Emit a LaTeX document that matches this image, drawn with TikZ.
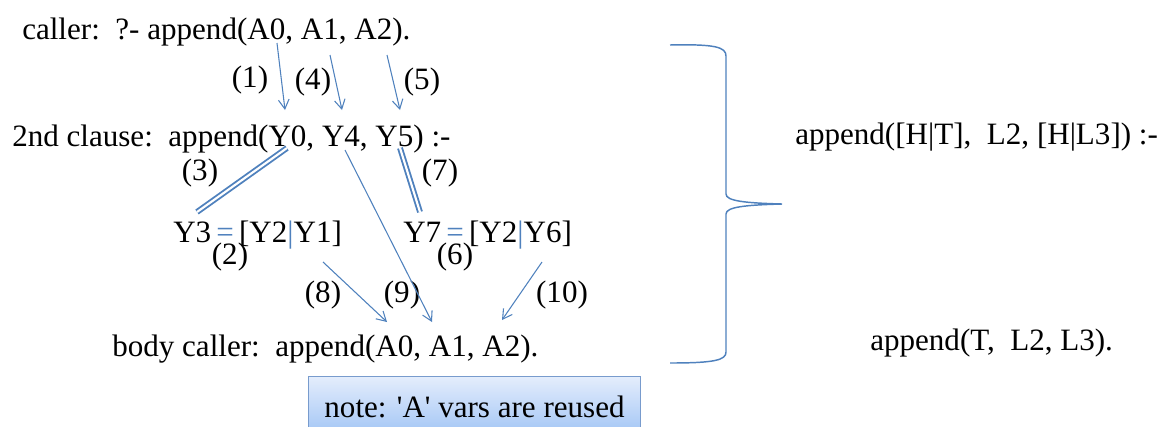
\documentclass[tikz,border=0pt]{standalone}
\usepackage{fontspec}
\setmainfont{Liberation Serif}
\usetikzlibrary{arrows.meta}
\definecolor{linkblue}{RGB}{79,129,189}
\definecolor{noteedge}{RGB}{120,155,205}
\definecolor{notetop}{RGB}{228,237,252}
\definecolor{notebot}{RGB}{160,196,245}

\begin{document}
\begin{tikzpicture}[x=0.75pt,y=-0.75pt,
  txt/.style={anchor=base west,inner sep=0pt,font=\fontsize{23.3}{27}\selectfont},
  num/.style={inner sep=0pt,font=\fontsize{23.3}{27}\selectfont},
  flow/.style={linkblue,line width=0.8pt,-{Straight Barb[length=7pt,width=8pt]}},
  bind/.style={linkblue,line width=1.4pt,double=white,double distance=1.6pt}]
 \useasboundingbox (0,0) rectangle (1163,426);

 \node[txt] (caller) at (22,39) {caller:\ \ ?- append(A0, A1, A2).};
 \node[txt] (clause) at (12,146) {2nd clause:\ \ append(Y0, Y4, Y5) :-};
 \node[txt] (yleft) at (173,242) {Y3\,{\color{linkblue}=}\,[Y2{\color{linkblue}|}Y1]};
 \node[txt] (yright) at (403,242) {Y7\,{\color{linkblue}=}\,[Y2{\color{linkblue}|}Y6]};
 \node[txt] (body) at (112,356) {body caller:\ \ append(A0, A1, A2).};
 \node[txt] (head) at (795,144) {append([H|T],\ \ L2, [H|L3]) :-};
 \node[txt] (tail) at (870,350) {append(T,\ \ L2, L3).};

 \node[num] (n1) at (250,80) {(1)};
 \node[num] (n4) at (313,82) {(4)};
 \node[num] (n5) at (422,82) {(5)};
 \node[num] (n3) at (200,173) {(3)};
 \node[num] (n7) at (440,173) {(7)};
 \node[num] (n2) at (230,257) {(2)};
 \node[num] (n6) at (455,257) {(6)};
 \node[num] (n8) at (323,295) {(8)};
 \node[num] (n9) at (402,295) {(9)};
 \node[num] (n10) at (562,295) {(10)};

 \node[draw=noteedge,line width=0.8pt,top color=notetop,bottom color=notebot,
   anchor=north west,minimum width=249pt,minimum height=45pt,
   font=\fontsize{23.3}{27}\selectfont] (note) at (308,376)
   {note: \textquotesingle A\textquotesingle\ vars are reused};

 \coordinate (a0) at (277,43);
 \coordinate (a1) at (330,55);
 \coordinate (a2) at (387,55);
 \coordinate (y0) at (285,110);
 \coordinate (y4) at (342,110);
 \coordinate (y5) at (400,110);
 \coordinate (y0b) at (287,148);
 \coordinate (y3) at (197,212);
 \coordinate (y5b) at (400,148);
 \coordinate (y7) at (420,212);
 \coordinate (y4b) at (345,150);
 \coordinate (y1) at (323,262);
 \coordinate (y6) at (542,262);
 \coordinate (b0) at (387,322);
 \coordinate (b1) at (432,322);
 \coordinate (b2) at (502,320);

 \draw[flow] (a0) -- (y0);
 \draw[flow] (a1) -- (y4);
 \draw[flow] (a2) -- (y5);
 \draw[bind] (y0b) -- (y3);
 \draw[bind] (y5b) -- (y7);
 \draw[flow] (y1) -- (b0);
 \draw[flow] (y4b) -- (b1);
 \draw[flow] (y6) -- (b2);

 \draw[linkblue,line width=1.1pt] (670,45) .. controls (715,44) and (726,47) .. (726,56)
   -- (726,194) .. controls (726,201) and (745,203) .. (782,204)
   .. controls (745,205) and (726,207) .. (726,214)
   -- (726,352) .. controls (726,360) and (715,363) .. (670,363);
\end{tikzpicture}
\end{document}
